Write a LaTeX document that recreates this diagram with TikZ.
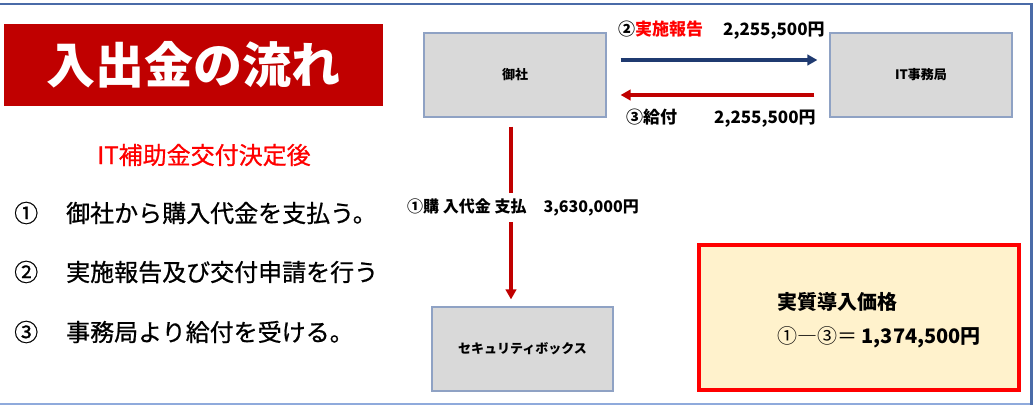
\documentclass[tikz,border=0pt]{standalone}
\usepackage{fontspec}
\setmainfont{Noto Sans CJK JP}
\newfontfamily\medfont{Noto Sans CJK JP}[FakeBold=0.8]
\usetikzlibrary{arrows.meta}
\definecolor{titlered}{HTML}{C00000}
\definecolor{arrowred}{HTML}{C00000}
\definecolor{navy}{HTML}{1F3A70}
\definecolor{brightred}{HTML}{FF0000}
\definecolor{boxgray}{HTML}{D9D9D9}
\definecolor{boxline}{HTML}{8FA2C4}
\definecolor{frametop}{HTML}{4A6BA8}
\definecolor{framebot}{HTML}{8FAADC}
\definecolor{paleyellow}{HTML}{FFF2CC}
\newcommand{\myfs}[1]{\fontsize{#1bp}{#1bp}\selectfont}
\begin{document}
\begin{tikzpicture}[x=1bp,y=-1bp,
  graybox/.style={draw=boxline,line width=1.2bp,fill=boxgray,minimum width=182bp,minimum height=84bp,inner sep=0pt,font=\myfs{13}\bfseries},
  flowarrow/.style={line width=3.5bp,-{Triangle[width=10.5bp,length=10bp]}},
  lbl/.style={anchor=west,inner sep=0pt,font=\myfs{17}\bfseries},
  item/.style={anchor=west,inner sep=0pt,font=\myfs{24}\medfont}
]
\useasboundingbox (0,0) rectangle (1034,405);
% frame
\draw[framebot,line width=2bp] (0,403.5) -- (1031.5,403.5);
\draw[frametop,line width=2.5bp] (0,4) -- (1031.5,4) -- (1031.5,404.5);
% title
\node[fill=titlered,minimum width=379bp,minimum height=82bp,inner sep=0pt,text=white,font=\myfs{49}\bfseries] (title) at (193.5,65) {入出金の流れ};
% left text
\node[inner sep=0pt,text=brightred,font=\myfs{24}\medfont] (subtitle) at (204,155) {IT補助金交付決定後};
\node[item] (item1) at (14,213) {①\hspace{28bp}御社から購入代金を支払う。};
\node[item] (item2) at (14,272) {②\hspace{28bp}実施報告及び交付申請を行う};
\node[item] (item3) at (14,332) {③\hspace{28bp}事務局より給付を受ける。};
% boxes
\node[graybox] (gosha) at (515,75) {御社};
\node[graybox] (itoffice) at (921,75) {IT事務局};
\node[graybox,minimum width=181bp] (secbox) at (522.5,349) {セキュリティボックス};
\node[draw=brightred,line width=3.5bp,fill=paleyellow,minimum width=320bp,minimum height=145bp,inner sep=0pt] (result) at (859,317.5) {};
\node[anchor=west,inner sep=0pt,font=\myfs{20}\bfseries] (rtitle) at (777,302) {実質導入価格};
\node[anchor=west,inner sep=0pt,font=\myfs{20}] (rvalue) at (777,337) {①―③＝ \textbf{1,374,500円}};
% arrows
\draw[flowarrow,navy,shorten <=14bp,shorten >=12bp] ([yshift=15bp]gosha.east) -- ([yshift=15bp]itoffice.west);
\draw[flowarrow,arrowred,shorten <=15bp,shorten >=14bp] ([yshift=-20bp]itoffice.west) -- ([yshift=-20bp]gosha.east);
\draw[flowarrow,arrowred,shorten <=9bp,shorten >=7bp] ([xshift=-4bp]gosha.south) -- ([xshift=-4bp]gosha.south |- secbox.north);
% labels
\node[lbl] (lbl2) at (618,30) {②\textcolor{brightred}{実施報告}\hspace{20bp}2,255,500円};
\node[lbl] (lbl3) at (626,118) {③給付\hspace{37bp}2,255,500円};
\node[anchor=west,fill=white,inner xsep=1bp,inner ysep=6bp,font=\myfs{16}\bfseries] (lbl1) at (406,207.5) {①購 入代金 支払\hspace{17bp}3,630,000円};
\end{tikzpicture}
\end{document}
